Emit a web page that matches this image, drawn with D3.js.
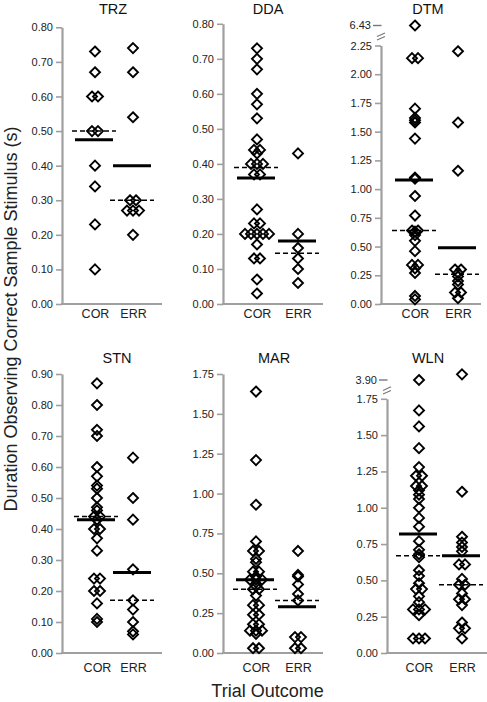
<!DOCTYPE html>
<html>
<head>
<meta charset="utf-8">
<script src="https://cdn.jsdelivr.net/npm/d3@7"></script>
<style>
  html, body { margin: 0; padding: 0; background: #fff; }
  svg { display: block; font-family: "Liberation Sans", Arial, sans-serif; }
</style>
</head>
<body>
<svg id="chart" width="487" height="702"></svg>
<script>
// ---------------- DATA ----------------
const categories = ["COR", "ERR"];
const panelNames = ["TRZ", "DDA", "DTM", "STN", "MAR", "WLN"];

const trzCor = [0.73, 0.67, 0.60, 0.60, 0.50, 0.50, 0.40, 0.34, 0.23, 0.10];
const trzErr = [0.74, 0.67, 0.54, 0.30, 0.30, 0.27, 0.27, 0.27, 0.20];
const trzMean = [0.475, 0.40];
const trzMedian = [0.50, 0.30];
const trzTicks = [0, 0.1, 0.2, 0.3, 0.4, 0.5, 0.6, 0.7, 0.8];

const ddaCor = [0.73, 0.70, 0.67, 0.60, 0.57, 0.53, 0.47, 0.44, 0.44, 0.43, 0.40, 0.40, 0.40,
  0.37, 0.37, 0.27, 0.23, 0.23, 0.20, 0.20, 0.20, 0.20, 0.20, 0.17, 0.13, 0.13, 0.07, 0.03];
const ddaErr = [0.43, 0.20, 0.16, 0.13, 0.10, 0.06];
const ddaMean = [0.36, 0.18];
const ddaMedian = [0.39, 0.145];
const ddaTicks = [0, 0.1, 0.2, 0.3, 0.4, 0.5, 0.6, 0.7, 0.8];

const dtmCor = [6.43, 2.14, 2.14, 1.70, 1.62, 1.60, 1.58, 1.44, 1.10, 1.09, 0.94, 0.77,
  0.64, 0.64, 0.63, 0.60, 0.55, 0.46, 0.34, 0.34, 0.31, 0.27, 0.07, 0.04];
const dtmErr = [2.20, 1.58, 1.16, 0.30, 0.30, 0.27, 0.24, 0.20, 0.17, 0.10, 0.10, 0.05];
const dtmMean = [1.08, 0.49];
const dtmMedian = [0.64, 0.26];
const dtmTicks = [0, 0.25, 0.5, 0.75, 1.0, 1.25, 1.5, 1.75, 2.0, 2.25];
const dtmBreak = 6.43;

const stnCor = [0.87, 0.80, 0.72, 0.70, 0.60, 0.57, 0.54, 0.53, 0.50, 0.47, 0.46, 0.44, 0.44,
  0.43, 0.40, 0.40, 0.37, 0.33, 0.24, 0.24, 0.20, 0.20, 0.16, 0.11, 0.10];
const stnErr = [0.63, 0.50, 0.43, 0.27, 0.17, 0.14, 0.10, 0.07, 0.06];
const stnMean = [0.43, 0.26];
const stnMedian = [0.44, 0.17];
const stnTicks = [0, 0.1, 0.2, 0.3, 0.4, 0.5, 0.6, 0.7, 0.8, 0.9];

const marCor = [1.64, 1.21, 0.93, 0.70, 0.64, 0.64, 0.59, 0.57, 0.51, 0.51, 0.48, 0.46, 0.46,
  0.46, 0.42, 0.40, 0.40, 0.36, 0.30, 0.30, 0.24, 0.24, 0.18, 0.18, 0.14, 0.14, 0.14, 0.12, 0.03, 0.03];
const marErr = [0.64, 0.49, 0.48, 0.43, 0.37, 0.33, 0.10, 0.10, 0.03, 0.03];
const marMean = [0.46, 0.29];
const marMedian = [0.40, 0.33];
const marTicks = [0, 0.25, 0.5, 0.75, 1.0, 1.25, 1.5, 1.75];

const wlnCor = [3.90, 1.67, 1.56, 1.41, 1.28, 1.22, 1.22, 1.15, 1.15, 1.12, 1.09, 1.06, 1.00,
  0.93, 0.87, 0.77, 0.71, 0.68, 0.66, 0.57, 0.53, 0.48, 0.44, 0.44, 0.39, 0.35, 0.30, 0.30,
  0.30, 0.26, 0.10, 0.10, 0.10];
const wlnErr = [4.55, 1.11, 0.80, 0.76, 0.73, 0.70, 0.61, 0.61, 0.51, 0.47, 0.47, 0.41, 0.37,
  0.37, 0.33, 0.21, 0.17, 0.17, 0.10];
const wlnMean = [0.82, 0.67];
const wlnMedian = [0.67, 0.47];
const wlnTicks = [0, 0.25, 0.5, 0.75, 1.0, 1.25, 1.5, 1.75];
const wlnBreak = 3.90;

const panelValues = [[trzCor, trzErr], [ddaCor, ddaErr], [dtmCor, dtmErr],
                     [stnCor, stnErr], [marCor, marErr], [wlnCor, wlnErr]];
const panelMeans = [trzMean, ddaMean, dtmMean, stnMean, marMean, wlnMean];
const panelMedians = [trzMedian, ddaMedian, dtmMedian, stnMedian, marMedian, wlnMedian];
const panelTicks = [trzTicks, ddaTicks, dtmTicks, stnTicks, marTicks, wlnTicks];
const panelBreaks = [null, null, dtmBreak, null, null, wlnBreak];

// ---------------- LAYOUT ----------------
const layout = [
  { x0: 62,  top: 27.3,  bottom: 304, cor: 95,  err: 133, titleX: 113, titleY: 14,  labY: 318, breakY: null },
  { x0: 223, top: 23.8,  bottom: 304, cor: 257, err: 298, titleX: 268, titleY: 14,  labY: 318, breakY: null },
  { x0: 381, top: 45.5,  bottom: 304, cor: 415, err: 458, titleX: 428, titleY: 14,  labY: 318, breakY: 25.5 },
  { x0: 62,  top: 374,   bottom: 653, cor: 97,  err: 133, titleX: 117, titleY: 363, labY: 671.5, breakY: null },
  { x0: 223, top: 374,   bottom: 653, cor: 256, err: 298, titleX: 274, titleY: 363, labY: 671.5, breakY: null },
  { x0: 387, top: 398.8, bottom: 653, cor: 419, err: 462, titleX: 428, titleY: 363, labY: 671.5, breakY: 380 }
];
const axisColor = "#9f9f9f";
const xAxisLen = 100;
const dodge = 6;

const svg = d3.select("#chart");
svg.append("rect").attr("width", 487).attr("height", 702).attr("fill", "#fff");

const diamond = "M0,-5L5,0L0,5L-5,0Z";

panelNames.forEach((name, i) => {
  const L = layout[i];
  const ticks = panelTicks[i];
  const yMax = ticks[ticks.length - 1];
  const y = d3.scaleLinear().domain([0, yMax]).range([L.bottom, L.top]);
  const brk = panelBreaks[i];
  let yUp = null;
  if (brk !== null) {
    yUp = d3.scaleLinear().domain([yMax, brk]).range([L.top, L.breakY]);
  }
  const yPos = v => (v > yMax && yUp) ? yUp(v) : y(v);
  const x = d3.scalePoint().domain(categories).range([L.cor, L.err]);

  const g = svg.append("g");

  // title
  g.append("text").attr("x", L.titleX).attr("y", L.titleY)
    .attr("text-anchor", "middle").attr("font-size", 14.5).attr("fill", "#111")
    .text(name);

  // y axis
  const yAxis = d3.axisLeft(y).tickValues(ticks).tickFormat(d3.format(".2f"))
    .tickSize(6).tickSizeOuter(0).tickPadding(3);
  const ga = g.append("g").attr("transform", `translate(${L.x0},0)`).call(yAxis);
  ga.select(".domain").attr("stroke", axisColor).attr("stroke-width", 2.2);
  ga.selectAll(".tick line").attr("stroke", axisColor).attr("stroke-width", 1.6);
  ga.selectAll(".tick text").attr("font-size", 11).attr("fill", "#222")
    .attr("font-family", "Liberation Sans, Arial, sans-serif");

  // break indicator
  if (brk !== null) {
    const by = L.breakY;
    g.append("line").attr("x1", L.x0 - 8).attr("x2", L.x0 + 0.5)
      .attr("y1", by).attr("y2", by).attr("stroke", "#777").attr("stroke-width", 1.4);
    g.append("text").attr("x", L.x0 - 10).attr("y", by).attr("dy", "0.35em")
      .attr("text-anchor", "end").attr("font-size", 11).attr("fill", "#222")
      .text(d3.format(".2f")(brk));
    const my = (by + L.top) / 2 + 1;
    [-1.8, 1.8].forEach(off => {
      g.append("line").attr("x1", L.x0 - 4).attr("x2", L.x0 + 4)
        .attr("y1", my + off + 1.8).attr("y2", my + off - 1.8)
        .attr("stroke", "#777").attr("stroke-width", 1.1);
    });
  }

  // x axis
  g.append("line").attr("x1", L.x0 - 1).attr("x2", L.x0 + xAxisLen)
    .attr("y1", L.bottom).attr("y2", L.bottom)
    .attr("stroke", axisColor).attr("stroke-width", 2.2);
  const xAxis = d3.axisBottom(x).tickSize(0).tickPadding(0);
  const gx = g.append("g").attr("transform", `translate(0,${L.labY})`).call(xAxis);
  gx.select(".domain").remove();
  gx.selectAll(".tick text").attr("font-size", 12.5).attr("fill", "#222")
    .attr("dy", 0).attr("font-family", "Liberation Sans, Arial, sans-serif");

  // points with dodge for identical values
  categories.forEach((cat, ci) => {
    const vals = panelValues[i][ci];
    const groups = d3.group(vals, v => v.toFixed(3));
    const pts = [];
    groups.forEach(arr => {
      const n = arr.length;
      arr.forEach((v, k) => pts.push({ v, off: (k - (n - 1) / 2) * dodge }));
    });
    g.selectAll(null).data(pts).enter().append("path")
      .attr("d", diamond)
      .attr("transform", d => `translate(${x(cat) + d.off},${yPos(d.v)})`)
      .attr("fill", "none").attr("stroke", "#000").attr("stroke-width", 1.9);

    // mean (solid) and median (dashed)
    const cx = x(cat) - 1;
    g.append("line").attr("x1", cx - 19).attr("x2", cx + 19)
      .attr("y1", y(panelMeans[i][ci])).attr("y2", y(panelMeans[i][ci]))
      .attr("stroke", "#000").attr("stroke-width", 3);
    g.append("line").attr("x1", cx - 22).attr("x2", cx + 22)
      .attr("y1", y(panelMedians[i][ci])).attr("y2", y(panelMedians[i][ci]))
      .attr("stroke", "#000").attr("stroke-width", 1.5).attr("stroke-dasharray", "5,3");
  });
});

// axis titles
svg.append("text")
  .attr("transform", "translate(17,319) rotate(-90)")
  .attr("text-anchor", "middle").attr("font-size", 18).attr("fill", "#222")
  .text("Duration Observing Correct Sample Stimulus (s)");
svg.append("text")
  .attr("x", 267.5).attr("y", 697)
  .attr("text-anchor", "middle").attr("font-size", 18).attr("fill", "#222")
  .text("Trial Outcome");
</script>
</body>
</html>
